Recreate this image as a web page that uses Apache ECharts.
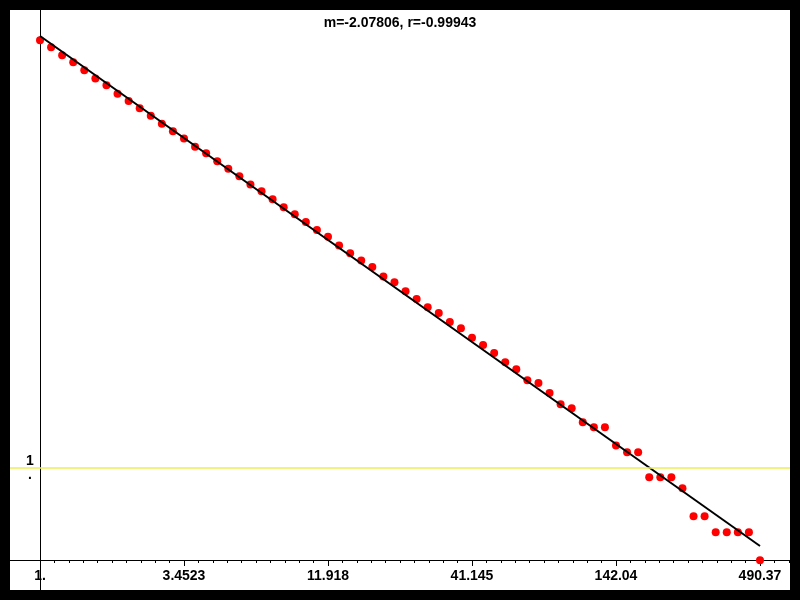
<!DOCTYPE html>
<html><head><meta charset="utf-8">
<script src="https://cdn.jsdelivr.net/npm/echarts@6/dist/echarts.min.js"></script>
<style>html,body{margin:0;padding:0;background:#000;width:800px;height:600px;overflow:hidden}#c{position:absolute;left:10px;top:10px;width:780px;height:580px}</style>
</head><body><div id="c"></div>
<script>
// x values (log-spaced bins)
const xValues = [1, 1.1, 1.21, 1.331, 1.4641, 1.6105, 1.7716, 1.9487, 2.1436, 2.3579,
  2.5937, 2.8531, 3.1384, 3.4523, 3.7975, 4.1772, 4.595, 5.0545, 5.5599, 6.1159,
  6.7275, 7.4002, 8.1403, 8.9543, 9.8497, 10.835, 11.918, 13.11, 14.421, 15.863,
  17.449, 19.194, 21.114, 23.225, 25.548, 28.102, 30.913, 34.004, 37.404, 41.145,
  45.259, 49.785, 54.764, 60.24, 66.264, 72.89, 80.18, 88.197, 97.017, 106.72,
  117.39, 129.13, 142.04, 156.25, 171.87, 189.06, 207.97, 228.76, 251.64, 276.8,
  304.48, 334.93, 368.42, 405.27, 445.79, 490.37];
// y values
const yValues = [48900, 41000, 33500, 28100, 22900, 18700, 15700, 12700, 10600, 8790,
  7290, 5960, 4910, 4100, 3330, 2820, 2310, 1910, 1580, 1280,
  1080, 884, 722, 605, 498, 407, 343, 276, 226, 189,
  160, 126, 109, 86.6, 71.3, 57.8, 50.0, 39.9, 34.0, 26.8,
  22.3, 18.2, 14.4, 12.1, 9.15, 8.55, 6.64, 4.99, 4.51, 3.17,
  2.80, 2.80, 1.77, 1.49, 1.49, 0.791, 0.791, 0.791, 0.599, 0.296,
  0.296, 0.197, 0.197, 0.197, 0.197, 0.0973];
const xTickLabels = ['1.', '3.4523', '11.918', '41.145', '142.04', '490.37'];
const yTickLabel = '1.';
const yRefValue = 1;
const fitSlope = -2.07806;
const fitR = -0.99943;
const fitIntercept = 54500;
const X_BASE = 3.4523;

const tx = v => Math.log(v) / Math.log(X_BASE);
const ty = v => Math.log(v);

const points = xValues.map((x, i) => [tx(x), ty(yValues[i])]);
const x0 = xValues[0], x1 = xValues[xValues.length - 1];
const fitData = [[tx(x0), ty(fitIntercept * Math.pow(x0, fitSlope))],
                 [tx(x1), ty(fitIntercept * Math.pow(x1, fitSlope))]];

const font = {fontFamily: 'Liberation Sans, Arial, sans-serif', fontWeight: 'bold', fontSize: 14, color: '#000'};
const yTop = 11.563;  // ln-units at the top of the plot
const hidden = {axisLine: {show: false, onZero: false}, axisTick: {show: false}, axisLabel: {show: false}};

const chart = echarts.init(document.getElementById('c'), null, {renderer: 'canvas'});
chart.setOption({
  animation: false,
  backgroundColor: '#fff',
  title: {
    text: 'm=' + fitSlope + ', r=' + fitR,
    left: 'center', top: 5, padding: 0,
    textStyle: Object.assign({}, font, {lineHeight: 16})
  },
  grid: [
    {left: -114, right: -114, top: 0, bottom: 0, outerBoundsMode: 'none'},
    {left: 30, right: -114, top: 0, bottom: 0, outerBoundsMode: 'none'},
    {left: 30, right: -114, top: 0, bottom: -336, outerBoundsMode: 'none'},
    {left: 30, right: -114, top: 550, bottom: 24, outerBoundsMode: 'none'},
    {left: 30, right: -114, top: 550, bottom: 27, outerBoundsMode: 'none'}
  ],
  xAxis: [
    {type: 'value', gridIndex: 0, min: -1, max: 6, offset: -30,
     axisLine: {show: true, onZero: false, lineStyle: {color: '#000', width: 1}},
     axisTick: {show: false}, axisLabel: {show: false}, splitLine: {show: false}},
    {type: 'value', gridIndex: 1, min: 0, max: 6, interval: 1, offset: -30,
     axisLine: {show: false, onZero: false},
     axisTick: {show: true, length: 6, lineStyle: {color: '#000', width: 1}},
     minorTick: {show: true, splitNumber: 10, length: 3, lineStyle: {color: '#000', width: 1}},
     axisLabel: Object.assign({show: true, margin: 8, lineHeight: 16},
       font, {formatter: v => (xTickLabels[Math.round(v)] !== undefined && Math.abs(v - Math.round(v)) < 1e-6) ? xTickLabels[Math.round(v)] : ''}),
     splitLine: {show: false}},
    {type: 'value', gridIndex: 2, min: 0, max: 6, show: false},
    // major tick marks
    Object.assign({type: 'value', gridIndex: 3, min: 0, max: 6, interval: 1,
     splitLine: {show: true, lineStyle: {color: '#000', width: 1}}}, hidden),
    // minor tick marks
    Object.assign({type: 'value', gridIndex: 4, min: 0, max: 6, interval: 1,
     minorTick: {show: false, splitNumber: 10},
     splitLine: {show: false},
     minorSplitLine: {show: true, lineStyle: {color: '#000', width: 1}}}, hidden)
  ],
  yAxis: [
    {type: 'value', gridIndex: 0, min: -3.080, max: yTop,
     axisLine: {show: true, onZero: true, lineStyle: {color: '#000', width: 1}},
     axisTick: {show: false}, axisLabel: {show: false},
     splitLine: {show: false}},
    {type: 'value', gridIndex: 1, min: 0, max: 1, show: false},
    {type: 'value', gridIndex: 2, min: -yTop, max: yTop, interval: yTop,
     axisLine: {show: false, onZero: false}, axisTick: {show: false}, splitLine: {show: false},
     axisLabel: Object.assign({show: true, align: 'center', margin: 10, lineHeight: 14, padding: [0, 0, 6, 0],
       showMinLabel: true, showMaxLabel: true, hideOverlap: false,
       formatter: v => Math.abs(v - ty(yRefValue)) < 1e-6 ? yTickLabel.split('').join('\n') : ''}, font)},
    {type: 'value', gridIndex: 3, min: 0, max: 1, show: false},
    {type: 'value', gridIndex: 4, min: 0, max: 1, show: false}
  ],
  series: [
    {type: 'scatter', xAxisIndex: 0, yAxisIndex: 0, z: 2,
     data: points, symbol: 'circle', symbolSize: 8,
     itemStyle: {color: '#ff0000', opacity: 1},
     markLine: {silent: true, symbol: 'none', label: {show: false},
       lineStyle: {color: '#eeee55', width: 1.5, type: 'solid'},
       data: [{yAxis: ty(yRefValue)}]}},
    {type: 'line', xAxisIndex: 0, yAxisIndex: 0, z: 3,
     data: fitData, symbol: 'none',
     lineStyle: {color: '#000', width: 2}}
  ]
});
</script></body></html>
